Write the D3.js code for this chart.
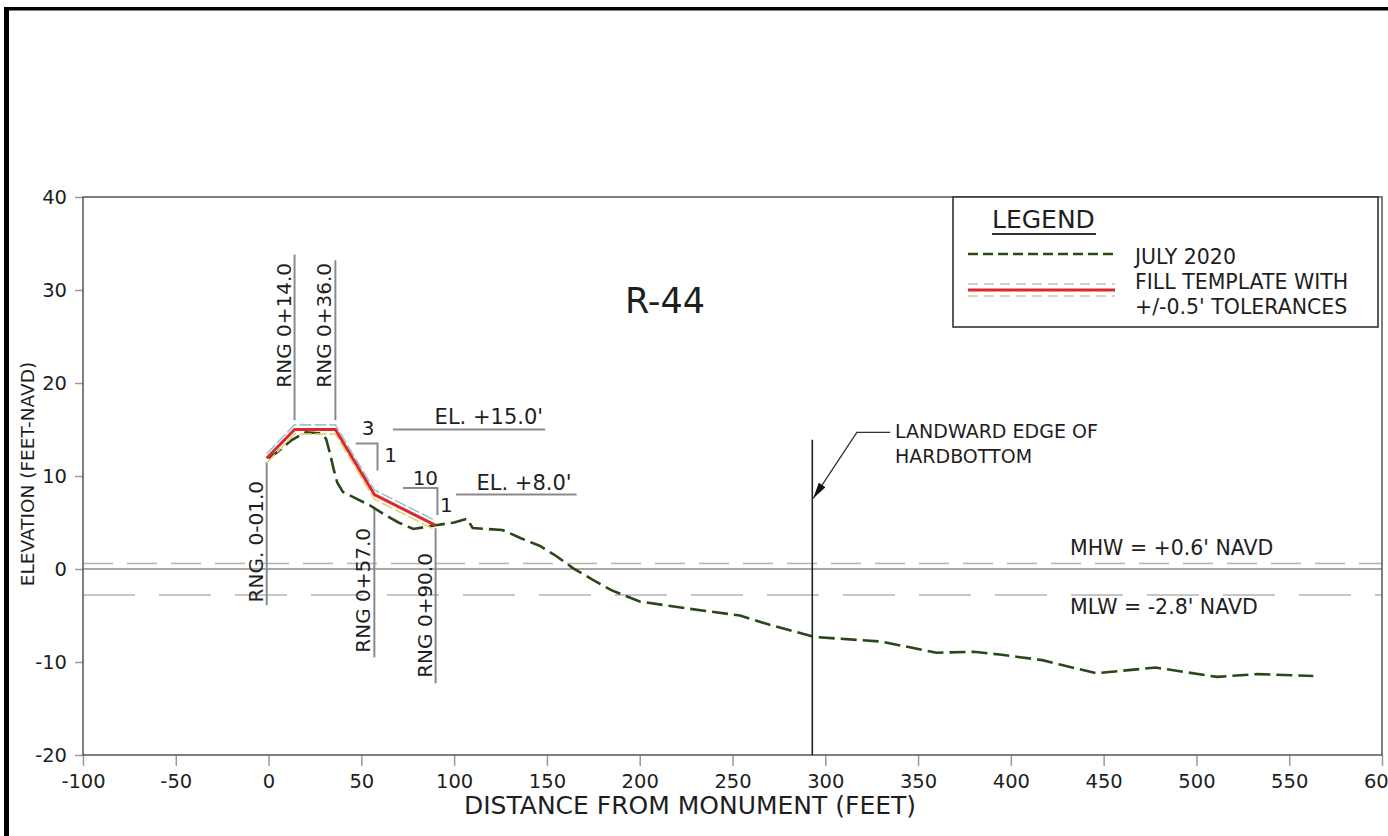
<!DOCTYPE html>
<html>
<head>
<meta charset="utf-8">
<script src="https://cdn.jsdelivr.net/npm/d3@7"></script>
<style>
  html, body { margin: 0; padding: 0; background: #fff; }
  svg { display: block; font-family: "DejaVu Sans", Verdana, sans-serif; }
  text { fill: #1e1e1e; }
</style>
</head>
<body>
<svg id="chart" width="1388" height="836"></svg>
<script>
// Beach profile R-44: July 2020 survey against the fill template.

// July 2020 survey (distance from monument, ft / elevation, ft NAVD)
const surveyDist = [0, 5, 12, 20, 28, 31, 33, 35, 37, 40, 47, 55, 62, 70, 78, 90, 100, 107, 110, 126, 136, 146, 155, 164, 175, 185, 200, 224, 254, 270, 294, 308, 330, 360, 380, 394, 417, 427, 446, 478, 511, 533, 563];
const surveyElev = [11.9, 12.6, 13.8, 14.7, 14.6, 14.0, 12.5, 10.8, 9.3, 8.3, 7.6, 6.8, 5.9, 5.0, 4.3, 4.7, 5.0, 5.4, 4.4, 4.2, 3.3, 2.5, 1.4, 0.1, -1.2, -2.3, -3.5, -4.2, -5.0, -6.0, -7.3, -7.5, -7.8, -9.0, -8.9, -9.2, -9.8, -10.3, -11.2, -10.6, -11.6, -11.3, -11.5];

// Fill template break points and the +/- tolerance
const templateDist = [-1, 14, 36, 57, 90];
const templateElev = [11.9, 15, 15, 8, 4.7];
const tolerance = 0.5;

// Range stations called out on the template
const stationDist = [-1, 14, 36, 57, 90];
const stationLabels = ["RNG. 0-01.0", "RNG 0+14.0", "RNG 0+36.0", "RNG 0+57.0", "RNG 0+90.0"];

// Tidal datums
const mhw = 0.6;
const mlw = -2.8;
const hardbottomDist = 293;

// Axis ticks
const xTicks = [-100, -50, 0, 50, 100, 150, 200, 250, 300, 350, 400, 450, 500, 550, 600];
const yTicks = [-20, -10, 0, 10, 20, 30, 40];

const svg = d3.select("#chart");

const x = d3.scaleLinear().domain([-100, 600]).range([83, 1382]);
const y = d3.scaleLinear().domain([-20, 40]).range([755, 197]);

// Sheet border
svg.append("rect").attr("x", 4).attr("y", 7).attr("width", 5).attr("height", 829).attr("fill", "#000");
svg.append("rect").attr("x", 4).attr("y", 7).attr("width", 1384).attr("height", 3.5).attr("fill", "#000");

// Datum lines
svg.append("line").attr("x1", x(-100)).attr("x2", x(600)).attr("y1", y(0)).attr("y2", y(0))
  .attr("stroke", "#8c8c8c").attr("stroke-width", 1.3);
svg.append("line").attr("x1", x(-100)).attr("x2", x(600)).attr("y1", y(mhw)).attr("y2", y(mhw))
  .attr("stroke", "#b4b4b4").attr("stroke-width", 1.5).attr("stroke-dasharray", "30,14");
svg.append("line").attr("x1", x(-100)).attr("x2", x(600)).attr("y1", y(mlw)).attr("y2", y(mlw))
  .attr("stroke", "#b4b4b4").attr("stroke-width", 1.5).attr("stroke-dasharray", "52,24");

// Axes (plain hyphen for negatives, as on the drawing)
const fmt = d => String(d);
const xAxis = d3.axisBottom(x).tickValues(xTicks).tickSize(11).tickPadding(8).tickFormat(fmt);
const yAxis = d3.axisLeft(y).tickValues(yTicks).tickSize(8).tickPadding(8).tickFormat(fmt);

const gx = svg.append("g").attr("transform", `translate(0,${y(-20)})`).call(xAxis);
const gy = svg.append("g").attr("transform", `translate(${x(-100)},0)`).call(yAxis);
[gx, gy].forEach(g => {
  g.select(".domain").remove();
  g.selectAll(".tick line").attr("stroke", "#9a9a9a").attr("stroke-width", 1.5);
  g.selectAll(".tick text").attr("font-size", 19.5).attr("fill", "#1e1e1e")
    .attr("font-family", "DejaVu Sans, Verdana, sans-serif");
});
gx.selectAll(".tick text").attr("dy", "0.71em");

// Plot frame
svg.append("rect").attr("x", x(-100)).attr("y", y(40))
  .attr("width", x(600) - x(-100)).attr("height", y(-20) - y(40))
  .attr("fill", "none").attr("stroke", "#555").attr("stroke-width", 1.5);

// Axis titles
svg.append("text").attr("x", 690).attr("y", 814).attr("text-anchor", "middle")
  .attr("font-size", 25).text("DISTANCE FROM MONUMENT (FEET)");
svg.append("text").attr("transform", "translate(34,474) rotate(-90)").attr("text-anchor", "middle")
  .attr("font-size", 18.5).text("ELEVATION (FEET-NAVD)");

// Chart title
svg.append("text").attr("x", 665).attr("y", 313).attr("text-anchor", "middle")
  .attr("font-size", 35).text("R-44");

// Range station lines and labels (line top, line bottom, label start elevation)
const stationLayout = [
  { top: 11.5, bottom: -3.9, start: -3.6 },
  { top: 33.8, bottom: 16.0, start: 19.5 },
  { top: 33.2, bottom: 16.0, start: 19.5 },
  { top: 6.6, bottom: -9.5, start: -9.0 },
  { top: 4.4, bottom: -12.3, start: -11.7 }
];
stationDist.forEach((d, i) => {
  const L = stationLayout[i];
  svg.append("line").attr("x1", x(d)).attr("x2", x(d)).attr("y1", y(L.top)).attr("y2", y(L.bottom))
    .attr("stroke", "#8a8a8a").attr("stroke-width", 2);
  svg.append("text").attr("transform", `translate(${x(d) - 4},${y(L.start)}) rotate(-90)`)
    .attr("font-size", 20).text(stationLabels[i]);
});

// Elevation callouts
const grey = "#8a8a8a";
svg.append("line").attr("x1", x(67)).attr("x2", x(149)).attr("y1", y(15)).attr("y2", y(15))
  .attr("stroke", grey).attr("stroke-width", 2);
svg.append("text").attr("x", x(149) - 2).attr("y", y(15) - 6).attr("text-anchor", "end")
  .attr("font-size", 21).text("EL. +15.0'");
svg.append("line").attr("x1", x(101)).attr("x2", x(166)).attr("y1", y(8)).attr("y2", y(8))
  .attr("stroke", grey).attr("stroke-width", 2);
svg.append("text").attr("x", x(166) - 5).attr("y", y(8) - 5).attr("text-anchor", "end")
  .attr("font-size", 21).text("EL. +8.0'");

// Slope triangles 3:1 and 10:1
svg.append("path").attr("fill", "none").attr("stroke", grey).attr("stroke-width", 2)
  .attr("d", `M${x(47)},${y(13.5)}H${x(58.7)}V${y(10.6)}`);
svg.append("text").attr("x", x(53.7)).attr("y", y(13.5) - 8).attr("text-anchor", "middle").attr("font-size", 20).text("3");
svg.append("text").attr("x", x(58.7) + 13).attr("y", y(11.5)).attr("text-anchor", "middle").attr("font-size", 20).text("1");
svg.append("path").attr("fill", "none").attr("stroke", grey).attr("stroke-width", 2)
  .attr("d", `M${x(72.5)},${y(8.7)}H${x(91)}V${y(5.8)}`);
svg.append("text").attr("x", x(84.5)).attr("y", y(8.7) - 3).attr("text-anchor", "middle").attr("font-size", 20).text("10");
svg.append("text").attr("x", x(91) + 9).attr("y", y(6.1)).attr("text-anchor", "middle").attr("font-size", 20).text("1");

// Survey profile
const survey = surveyDist.map((d, i) => [d, surveyElev[i]]);
const line = d3.line().x(d => x(d[0])).y(d => y(d[1]));
svg.append("path").datum(survey).attr("d", line).attr("fill", "none")
  .attr("stroke", "#2a4718").attr("stroke-width", 2.6).attr("stroke-dasharray", "16,6");

// Fill template with tolerance bands
const template = templateDist.map((d, i) => [d, templateElev[i]]);
svg.append("path").datum(template.map(p => [p[0], p[1] + tolerance])).attr("d", line)
  .attr("fill", "none").attr("stroke", "#9cc4d8").attr("stroke-width", 1.6).attr("stroke-dasharray", "12,3");
svg.append("path").datum(template.map(p => [p[0], p[1] - tolerance])).attr("d", line)
  .attr("fill", "none").attr("stroke", "#e2d478").attr("stroke-width", 1.6).attr("stroke-dasharray", "12,3");
svg.append("path").datum(template).attr("d", line).attr("fill", "none")
  .attr("stroke", "#e0262a").attr("stroke-width", 3).attr("stroke-linejoin", "round");

// Landward edge of hardbottom
svg.append("line").attr("x1", x(hardbottomDist)).attr("x2", x(hardbottomDist))
  .attr("y1", y(13.9)).attr("y2", y(-20)).attr("stroke", "#222").attr("stroke-width", 1.6);
const tip = [x(hardbottomDist) + 1, y(7.6)];
const elbow = [x(317), y(14.7)];
svg.append("path").attr("fill", "none").attr("stroke", "#333").attr("stroke-width", 1.3)
  .attr("d", `M${x(335)},${elbow[1]}H${elbow[0]}L${tip[0]},${tip[1]}`);
{
  const ang = Math.atan2(tip[1] - elbow[1], tip[0] - elbow[0]);
  const len = 16, half = 4;
  const bx = tip[0] - len * Math.cos(ang), by = tip[1] - len * Math.sin(ang);
  const px = -Math.sin(ang) * half, py = Math.cos(ang) * half;
  svg.append("path").attr("fill", "#111")
    .attr("d", `M${tip[0]},${tip[1]}L${bx + px},${by + py}L${bx - px},${by - py}Z`);
}
svg.append("text").attr("x", x(337.6)).attr("y", 438).attr("font-size", 19).text("LANDWARD EDGE OF");
svg.append("text").attr("x", x(337.6)).attr("y", 463).attr("font-size", 19).text("HARDBOTTOM");

// Tidal datum labels
svg.append("text").attr("x", 1070).attr("y", 555).attr("font-size", 20.5).text("MHW = +0.6' NAVD");
svg.append("text").attr("x", 1070).attr("y", 614).attr("font-size", 20.5).text("MLW = -2.8' NAVD");

// Legend
const lg = svg.append("g");
lg.append("rect").attr("x", 953).attr("y", 197).attr("width", 425).attr("height", 130)
  .attr("fill", "#fff").attr("stroke", "#333").attr("stroke-width", 1.6);
lg.append("text").attr("x", 992).attr("y", 228).attr("font-size", 25).text("LEGEND");
lg.append("line").attr("x1", 992).attr("x2", 1096).attr("y1", 234).attr("y2", 234)
  .attr("stroke", "#333").attr("stroke-width", 2);
lg.append("line").attr("x1", 968).attr("x2", 1115).attr("y1", 254).attr("y2", 254)
  .attr("stroke", "#2a4718").attr("stroke-width", 2.6).attr("stroke-dasharray", "10,5");
lg.append("line").attr("x1", 968).attr("x2", 1115).attr("y1", 284).attr("y2", 284)
  .attr("stroke", "#b8c6cc").attr("stroke-width", 1.4).attr("stroke-dasharray", "10,6");
lg.append("line").attr("x1", 968).attr("x2", 1115).attr("y1", 296).attr("y2", 296)
  .attr("stroke", "#cfc9a0").attr("stroke-width", 1.4).attr("stroke-dasharray", "10,6");
lg.append("line").attr("x1", 968).attr("x2", 1115).attr("y1", 290).attr("y2", 290)
  .attr("stroke", "#e0262a").attr("stroke-width", 3);
lg.append("text").attr("x", 1135).attr("y", 264).attr("font-size", 20.5).text("JULY 2020");
lg.append("text").attr("x", 1135).attr("y", 289).attr("font-size", 20.5).text("FILL TEMPLATE WITH");
lg.append("text").attr("x", 1135).attr("y", 314).attr("font-size", 20.5).text("+/-0.5' TOLERANCES");
</script>
</body>
</html>
